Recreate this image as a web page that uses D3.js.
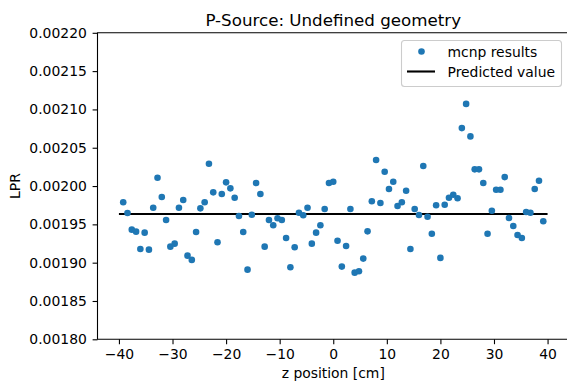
<!DOCTYPE html>
<html>
  <head>
    <meta charset="utf-8">
    <title>P-Source: Undefined geometry</title>
    <style media="screen">
      body {
        margin: 0;
        background: #fff;
      }
      svg text {
        font-family: "DejaVu Sans", sans-serif;
        fill: #000;
      }
      .tick text {
        font-size: 13.9px;
      }
      .dot {
        fill: #1f77b4;
      }
    </style>
  </head>
  <body>
    <div class="container"></div>
    <script src="https://cdn.jsdelivr.net/npm/d3@7/dist/d3.min.js" charset="utf-8"></script>
    <script type="text/javascript">
    // z positions: -39.2 .. 39.2 in 0.8 cm steps
    var zStart = -39.2;
    var zStep = 0.8;
    var lpr = [
      0.0019788, 0.0019648, 0.0019431, 0.0019405, 0.0019179, 0.0019392, 0.0019170, 0.0019717, 0.0020108, 0.0019857,
      0.0019557, 0.0019209, 0.0019248, 0.0019717, 0.0019818, 0.0019092, 0.0019036, 0.0019401, 0.0019709, 0.0019788,
      0.0020291, 0.0019918, 0.0019266, 0.0019896, 0.0020048, 0.0019970, 0.0019848, 0.0019609, 0.0019401, 0.0018909,
      0.0019626, 0.0020039, 0.0019896, 0.0019209, 0.0019557, 0.0019488, 0.0019579, 0.0019557, 0.0019322, 0.0018941,
      0.0019201, 0.0019652, 0.0019619, 0.0019717, 0.0019248, 0.0019392, 0.0019488, 0.0019700, 0.0020039, 0.0020056,
      0.0019287, 0.0018949, 0.0019218, 0.0019700, 0.0018870, 0.0018889, 0.0019053, 0.0019409, 0.0019801, 0.0020339,
      0.0019779, 0.0020186, 0.0019961, 0.0020056, 0.0019739, 0.0019788, 0.0019939, 0.0019179, 0.0019700, 0.0019622,
      0.0020261, 0.0019600, 0.0019378, 0.0019749, 0.0019062, 0.0019756, 0.0019848, 0.0019887, 0.0019840, 0.0020756,
      0.0021072, 0.0020648, 0.0020218, 0.0020218, 0.0020039, 0.0019378, 0.0019678, 0.0019952, 0.0019952, 0.0020117,
      0.0019583, 0.0019479, 0.0019362, 0.0019322, 0.0019661, 0.0019652, 0.0019961, 0.0020069, 0.0019540
    ];
    var predicted = 0.0019635;
    var predictedRange = [-40, 40];
    var xTicks = [-40, -30, -20, -10, 0, 10, 20, 30, 40];
    var yTicks = [0.0018, 0.00185, 0.0019, 0.00195, 0.002, 0.00205, 0.0021, 0.00215, 0.0022];

    var width = 567;
    var height = 387;
    var tickLen = 4.9;

    var svg = d3.select(".container")
        .append("svg")
        .attr("width", width)
        .attr("height", height);

    svg.append("rect")
        .attr("width", width)
        .attr("height", height)
        .attr("fill", "#fff");

    var x = d3.scaleLinear().domain([-44, 44]).range([97.5, 569]);
    var y = d3.scaleLinear().domain([0.0018, 0.0022]).range([339.3, 32.8]);

    // predicted value line
    svg.append("line")
        .attr("x1", x(predictedRange[0]))
        .attr("x2", x(predictedRange[1]))
        .attr("y1", y(predicted))
        .attr("y2", y(predicted))
        .attr("stroke", "#000")
        .attr("stroke-width", 2.1);

    // mcnp points
    svg.selectAll(".dot")
        .data(lpr)
        .enter()
        .append("circle")
        .attr("class", "dot")
        .attr("cx", function(d, i) { return x(zStart + i * zStep); })
        .attr("cy", function(d) { return y(d); })
        .attr("r", 3.3);

    // axes
    var xAxis = d3.axisBottom(x)
        .tickValues(xTicks)
        .tickFormat(d3.format("d"))
        .tickSize(tickLen)
        .tickPadding(4.9);

    var yAxis = d3.axisLeft(y)
        .tickValues(yTicks)
        .tickFormat(d3.format(".5f"))
        .tickSize(tickLen)
        .tickPadding(5.8);

    var gx = svg.append("g")
        .attr("transform", "translate(0," + y.range()[0] + ")")
        .call(xAxis);

    var gy = svg.append("g")
        .attr("transform", "translate(" + x.range()[0] + ",0)")
        .call(yAxis);

    [gx, gy].forEach(function(g) {
      g.attr("font-family", null).attr("font-size", null);
      g.select(".domain").remove();
      g.selectAll(".tick line").attr("stroke", "#000").attr("stroke-width", 1.1);
    });

    // spines (left, top, bottom)
    svg.append("path")
        .attr("d", "M" + width + "," + y.range()[1] +
                   "H" + x.range()[0] +
                   "V" + y.range()[0] +
                   "H" + width)
        .attr("fill", "none")
        .attr("stroke", "#000")
        .attr("stroke-width", 1.1);

    // title and labels
    svg.append("text")
        .attr("x", (x.range()[0] + x.range()[1]) / 2)
        .attr("y", 26)
        .attr("text-anchor", "middle")
        .style("font-size", "16.7px")
        .text("P-Source: Undefined geometry");

    svg.append("text")
        .attr("x", (x.range()[0] + x.range()[1]) / 2)
        .attr("y", 377.5)
        .attr("text-anchor", "middle")
        .style("font-size", "13.9px")
        .text("z position [cm]");

    svg.append("text")
        .attr("transform", "translate(20," + (y.range()[0] + y.range()[1]) / 2 + ") rotate(-90)")
        .attr("text-anchor", "middle")
        .style("font-size", "13.9px")
        .text("LPR");

    // legend
    var legend = svg.append("g");
    legend.append("rect")
        .attr("x", 401.5)
        .attr("y", 40.5)
        .attr("width", 160)
        .attr("height", 46)
        .attr("rx", 3)
        .attr("fill", "#fff")
        .attr("fill-opacity", 0.8)
        .attr("stroke", "#cccccc")
        .attr("stroke-width", 1.1);

    legend.append("circle")
        .attr("class", "dot")
        .attr("cx", 421.5)
        .attr("cy", 51.5)
        .attr("r", 3.3);

    legend.append("line")
        .attr("x1", 407)
        .attr("x2", 435)
        .attr("y1", 71.5)
        .attr("y2", 71.5)
        .attr("stroke", "#000")
        .attr("stroke-width", 2.1);

    legend.selectAll(".leg-text")
        .data(["mcnp results", "Predicted value"])
        .enter()
        .append("text")
        .attr("class", "leg-text")
        .attr("x", 447.5)
        .attr("y", function(d, i) { return 51.5 + i * 20 + 5; })
        .style("font-size", "13.9px")
        .text(function(d) { return d; });
    </script>
  </body>
</html>
